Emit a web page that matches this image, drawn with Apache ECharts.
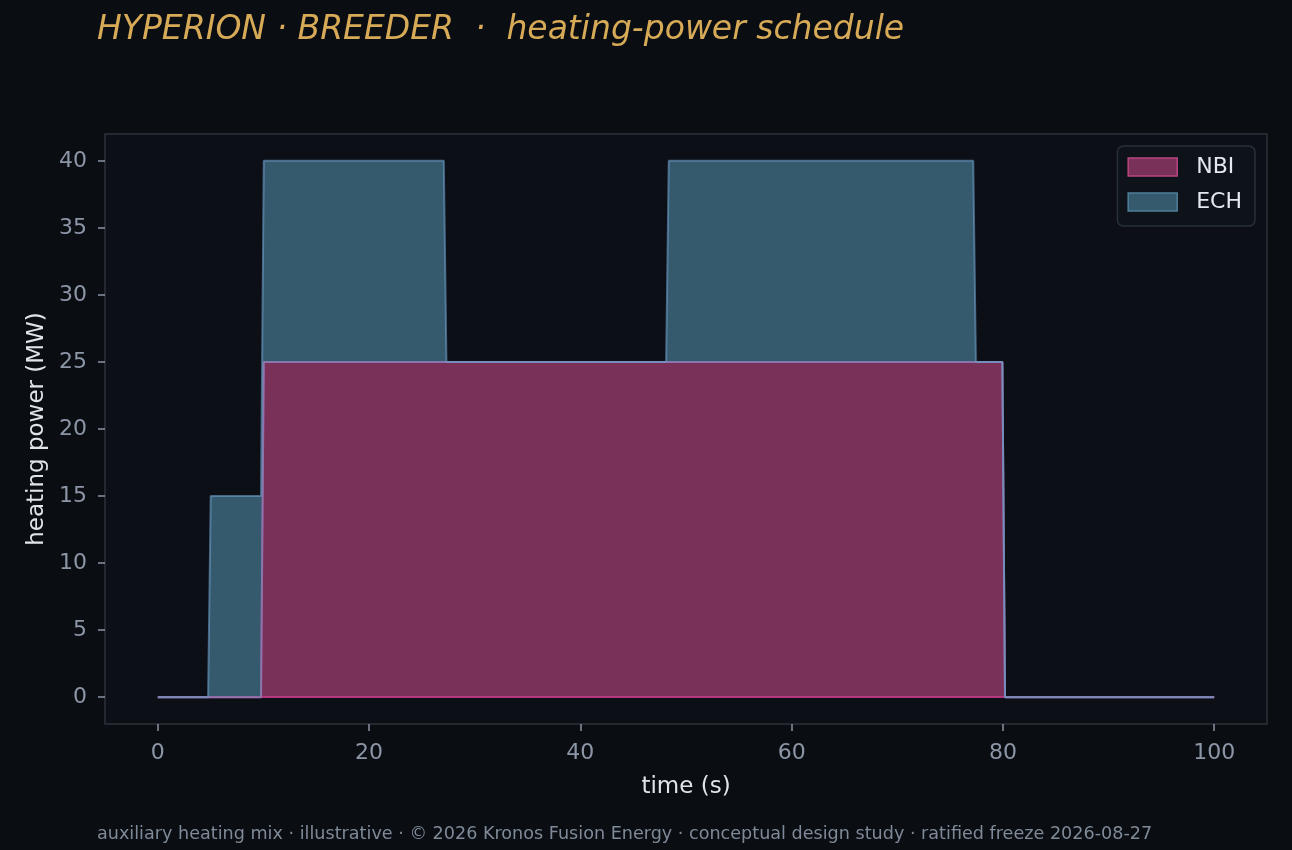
<!DOCTYPE html>
<html>
<head>
<meta charset="utf-8">
<script src="https://cdn.jsdelivr.net/npm/echarts@6/dist/echarts.min.js"></script>
<style>
  html, body { margin: 0; padding: 0; background: #0a0d12; }
  #chart { width: 1292px; height: 850px; }
</style>
</head>
<body>
<div id="chart"></div>
<script>
// ---- data ----
const time = [0, 4.76, 5.01, 9.77, 10.03, 27.07, 27.32, 48.12, 48.37, 77.19, 77.44, 79.95, 80.2, 100];
const nbi  = [0, 0, 0, 0, 25, 25, 25, 25, 25, 25, 25, 25, 0, 0];
const ech  = [0, 0, 15, 15, 15, 15, 0, 0, 15, 15, 0, 0, 0, 0];
const seriesNames = ['NBI', 'ECH'];
const xTicks = [0, 20, 40, 60, 80, 100];
const yTicks = [0, 5, 10, 15, 20, 25, 30, 35, 40];
const titleText = 'HYPERION \u00b7 BREEDER  \u00b7  heating-power schedule';
const footerText = 'auxiliary heating mix \u00b7 illustrative \u00b7 \u00a9 2026 Kronos Fusion Energy \u00b7 conceptual design study \u00b7 ratified freeze 2026-08-27';

const FONT = 'DejaVu Sans';
const fills = { NBI: '#7a3159', ECH: '#365a6d' };
const edges = { NBI: 'rgba(196,58,136,0.85)', ECH: 'rgba(108,156,198,0.62)' };
const legendEdges = { NBI: '#b8457f', ECH: '#4f7f99' };

// stacked layers: NBI at the bottom, ECH sits on top of NBI
const nbiPts = time.map((t, i) => [t, nbi[i]]);
const echTopPts = time.map((t, i) => [t, nbi[i] + ech[i]]);
const tStart = time[0], tEnd = time[time.length - 1];

const chart = echarts.init(document.getElementById('chart'), null, { renderer: 'canvas' });
chart.setOption({
  backgroundColor: '#0a0d12',
  animation: false,
  title: [
    { text: titleText, left: 92, top: 9,
      textStyle: { color: '#d6aa57', fontFamily: FONT, fontStyle: 'italic', fontWeight: 'normal', fontSize: 33 } },
    { text: footerText, left: 92, top: 820,
      textStyle: { color: '#7f8a98', fontFamily: FONT, fontWeight: 'normal', fontSize: 17.6 } }
  ],
  legend: {
    right: 37, top: 146,
    orient: 'vertical',
    backgroundColor: '#0e1219',
    borderColor: '#2a3039',
    borderWidth: 1.5,
    borderRadius: 6,
    padding: [10, 13, 13, 10],
    itemWidth: 49, itemHeight: 18, itemGap: 13,
    textStyle: { color: '#e4e7ee', fontFamily: FONT, fontSize: 22, padding: [0, 0, 0, 14] },
    data: seriesNames.map(n => ({
      name: n, icon: 'rect',
      itemStyle: { color: fills[n], borderColor: legendEdges[n], borderWidth: 1.5 }
    }))
  },
  grid: {
    left: 105, top: 134, width: 1162, height: 590,
    show: true, backgroundColor: '#0c0f16', borderColor: '#2c323b', borderWidth: 1.5,
    containLabel: false
  },
  xAxis: {
    type: 'value', min: -5, max: 105,
    name: 'time (s)', nameLocation: 'middle', nameGap: 52,
    nameTextStyle: { color: '#dfe3ea', fontFamily: FONT, fontSize: 23 },
    axisLine: { show: false, onZero: false },
    splitLine: { show: false },
    axisTick: { show: true, inside: false, length: 7, customValues: xTicks,
      lineStyle: { color: '#8a94a4', width: 1.5 } },
    axisLabel: { customValues: xTicks, margin: 18, color: '#8c96a6', fontFamily: FONT, fontSize: 22 }
  },
  yAxis: {
    type: 'value', min: -2, max: 42,
    name: 'heating power (MW)', nameLocation: 'middle', nameGap: 56, nameRotate: 90,
    nameTextStyle: { color: '#dfe3ea', fontFamily: FONT, fontSize: 23 },
    axisLine: { show: false, onZero: false },
    splitLine: { show: false },
    axisTick: { show: true, inside: false, length: 7, customValues: yTicks,
      lineStyle: { color: '#8a94a4', width: 1.5 } },
    axisLabel: { customValues: yTicks, margin: 18, color: '#8c96a6', fontFamily: FONT, fontSize: 22 }
  },
  series: [
    { name: 'ECH', type: 'line', data: echTopPts, z: 2,
      symbol: 'none', showSymbol: false,
      lineStyle: { width: 0, opacity: 0 },
      itemStyle: { color: fills.ECH },
      areaStyle: { color: fills.ECH, opacity: 1 } },
    { name: 'NBI', type: 'line', data: nbiPts, z: 3,
      symbol: 'none', showSymbol: false,
      lineStyle: { color: edges.NBI, width: 2 },
      itemStyle: { color: fills.NBI },
      areaStyle: { color: fills.NBI, opacity: 1 },
      // lower edge of the NBI fill (stack baseline)
      markLine: {
        silent: true, symbol: 'none', animation: false, z: 4,
        label: { show: false },
        lineStyle: { color: edges.NBI, width: 2, type: 'solid' },
        data: [[{ coord: [tStart, 0] }, { coord: [tEnd, 0] }]]
      } },
    // ECH fill outline (upper and lower edge), drawn above NBI like a stacked fill edge
    { name: 'ECH edge top', type: 'line', data: echTopPts, z: 6,
      symbol: 'none', showSymbol: false, silent: true,
      lineStyle: { color: edges.ECH, width: 2 } },
    { name: 'ECH edge bottom', type: 'line', data: nbiPts, z: 6,
      symbol: 'none', showSymbol: false, silent: true,
      lineStyle: { color: edges.ECH, width: 2 } }
  ]
});
</script>
</body>
</html>
